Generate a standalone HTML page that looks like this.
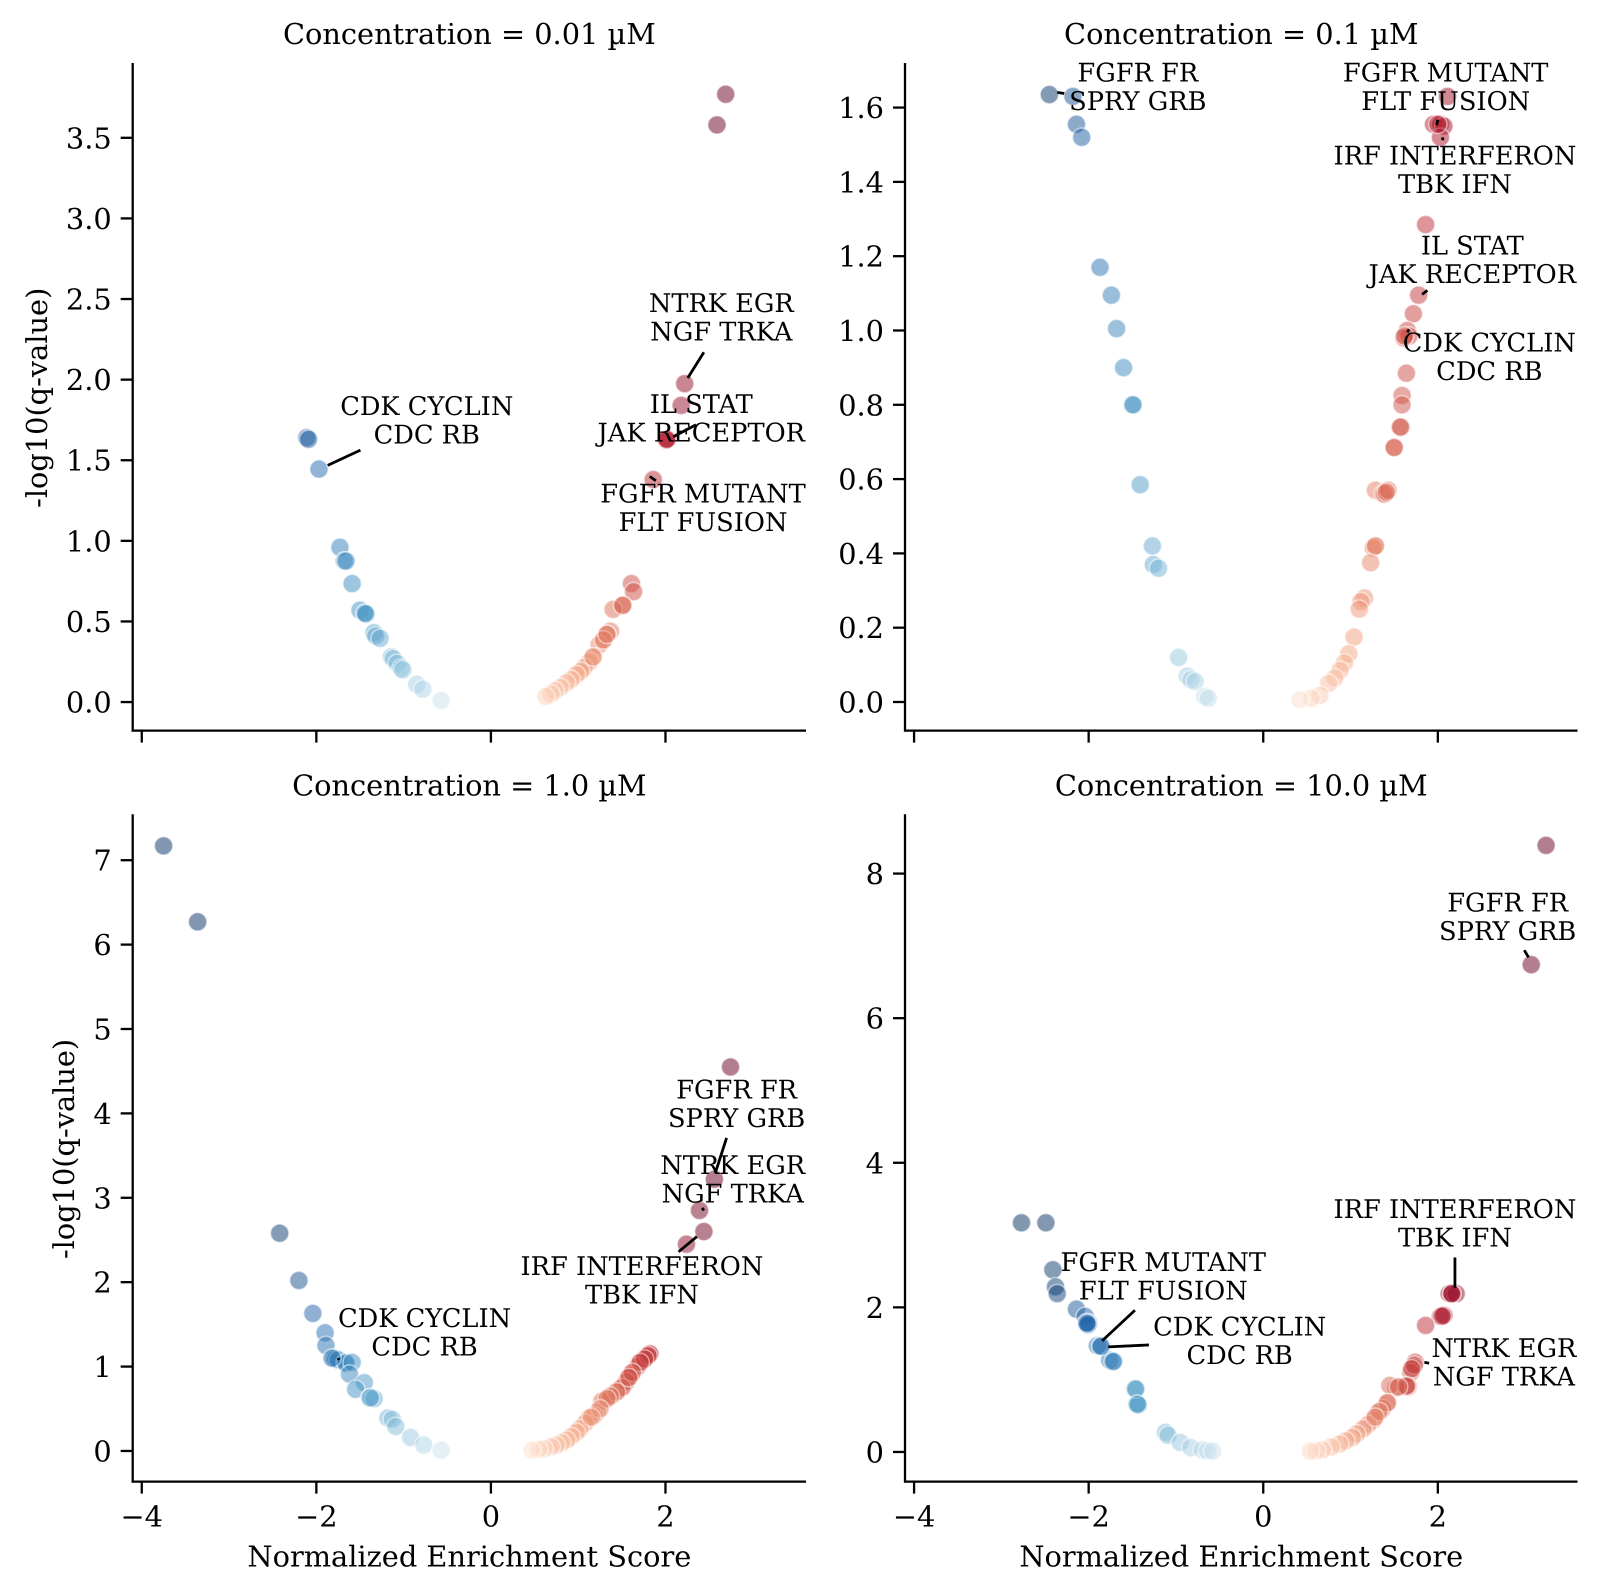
<!DOCTYPE html>
<html lang="en">
<head>
<meta charset="utf-8">
<title>Enrichment volcano plots</title>
<style>
html,body{margin:0;padding:0;background:#fff;}
svg{display:block;}
text{font-family:"DejaVu Serif","Liberation Serif",serif;font-size:28.8px;fill:#000;text-rendering:geometricPrecision;}
text.anno{font-size:25.7px;}
</style>
</head>
<body>
<svg id="fig" width="1600" height="1595" viewBox="0 0 1600 1595" xmlns="http://www.w3.org/2000/svg"></svg>
<script>
// ---------- data ----------
const xTicks = [-4, -2, 0, 2];
const yTicksA = [0, 0.5, 1, 1.5, 2, 2.5, 3, 3.5];
const yTicksB = [0, 0.2, 0.4, 0.6, 0.8, 1, 1.2, 1.4, 1.6];
const yTicksC = [0, 1, 2, 3, 4, 5, 6, 7];
const yTicksD = [0, 2, 4, 6, 8];
const yLabelsA = ["0.0", "0.5", "1.0", "1.5", "2.0", "2.5", "3.0", "3.5"];
const yLabelsB = ["0.0", "0.2", "0.4", "0.6", "0.8", "1.0", "1.2", "1.4", "1.6"];
const yLabelsC = ["0", "1", "2", "3", "4", "5", "6", "7"];
const yLabelsD = ["0", "2", "4", "6", "8"];

const nesA = [-2.11,-2.09,-1.97,-1.73,-1.68,-1.66,-1.59,-1.50,-1.44,-1.43,-1.34,-1.32,-1.27,-1.14,-1.12,-1.075,-1.03,-1.01,-0.85,-0.78,-0.57,
  2.69,2.59,2.22,2.18,2.02,2.01,1.86,1.61,1.635,1.51,1.40,1.37,1.33,1.29,1.24,1.17,1.13,1.07,1.03,0.98,0.92,0.865,0.795,0.735,0.69,0.63,
  1.51,1.17,-1.44,1.29,1.33,2.015];
const qA = [1.64,1.63,1.445,0.96,0.875,0.875,0.735,0.57,0.55,0.545,0.43,0.41,0.395,0.28,0.27,0.24,0.21,0.2,0.11,0.08,0.01,
  3.77,3.58,1.975,1.84,1.63,1.625,1.38,0.735,0.685,0.60,0.575,0.44,0.42,0.385,0.355,0.28,0.25,0.215,0.19,0.17,0.14,0.12,0.09,0.07,0.05,0.035,
  0.60,0.28,0.55,0.385,0.42,1.63];

const nesB = [-2.45,-2.18,-2.14,-2.08,-1.87,-1.74,-1.68,-1.60,-1.50,-1.49,-1.41,-1.27,-1.26,-1.20,-0.97,-0.87,-0.83,-0.78,-0.67,-0.63,
  2.11,1.95,2.03,2.07,2.03,1.86,1.78,1.72,1.65,1.67,1.61,1.64,1.59,1.59,1.58,1.57,1.50,1.285,1.37,1.39,1.43,1.285,1.26,1.23,1.16,1.12,1.10,1.04,0.98,0.93,0.88,0.82,0.75,0.65,0.55,0.42,
  1.50,2.0,1.285,1.62,1.41];
const qB = [1.635,1.63,1.555,1.52,1.17,1.095,1.005,0.90,0.80,0.80,0.585,0.42,0.37,0.36,0.12,0.07,0.06,0.055,0.015,0.01,
  1.63,1.555,1.555,1.55,1.52,1.285,1.095,1.045,1.0,0.985,0.98,0.885,0.825,0.80,0.74,0.74,0.685,0.57,0.56,0.56,0.57,0.42,0.415,0.375,0.28,0.27,0.25,0.175,0.13,0.105,0.085,0.065,0.05,0.018,0.01,0.006,
  0.685,1.555,0.42,0.985,0.565];

const nesC = [-3.75,-3.36,-2.42,-2.2,-2.04,-1.90,-1.89,-1.80,-1.78,-1.75,-1.67,-1.66,-1.59,-1.62,-1.45,-1.55,-1.39,-1.34,-1.18,-1.13,-1.09,-0.92,-0.77,-0.57,
  2.745,2.56,2.39,2.44,2.24,1.82,1.76,1.71,1.62,1.58,1.52,1.47,1.40,1.355,1.30,1.27,1.22,1.18,1.12,1.08,1.02,0.98,0.92,0.87,0.81,0.75,0.69,0.61,0.55,0.47,
  1.80,1.78,1.74,1.68,1.60,1.55,1.50,1.44,1.37,1.33,-1.82,-1.38,1.25,1.15,
  1.82,1.80,1.76,1.71,1.62,1.58];
const qC = [7.17,6.27,2.58,2.02,1.63,1.40,1.25,1.10,1.09,1.08,1.05,1.04,1.05,0.91,0.81,0.73,0.63,0.62,0.39,0.375,0.29,0.16,0.07,0.01,
  4.55,3.22,2.85,2.6,2.45,1.15,1.09,1.05,0.93,0.87,0.77,0.73,0.665,0.64,0.6,0.59,0.46,0.42,0.39,0.33,0.265,0.22,0.17,0.13,0.097,0.07,0.05,0.025,0.02,0.01,
  1.13,1.11,1.07,1.0,0.9,0.82,0.75,0.70,0.65,0.62,1.10,0.63,0.5,0.4,
  1.15,1.13,1.09,1.05,0.93,0.87];

const nesD = [-2.77,-2.49,-2.41,-2.38,-2.36,-2.14,-2.04,-2.02,-2.0,-2.01,-1.90,-1.86,-1.76,-1.71,-1.47,-1.45,-1.43,-1.12,-1.09,-0.95,-0.83,-0.70,-0.64,-0.58,
  3.24,3.07,2.13,2.21,2.16,2.03,2.07,1.86,1.74,1.72,1.69,1.66,1.65,1.52,1.45,1.425,1.37,1.31,1.26,1.20,1.145,1.07,1.02,0.945,0.875,0.78,0.68,0.61,0.54,
  2.16,2.05,1.73,1.70,1.64,1.55,1.42,-2.02,-1.86,-1.72,-1.46,-1.44,1.33,1.28];
const qD = [3.17,3.17,2.52,2.285,2.19,1.975,1.875,1.79,1.78,1.76,1.47,1.47,1.27,1.255,0.875,0.66,0.65,0.27,0.23,0.13,0.06,0.03,0.015,0.01,
  8.39,6.74,2.19,2.19,2.19,1.875,1.89,1.75,1.24,1.17,1.10,0.9,0.92,0.89,0.92,0.68,0.6,0.535,0.44,0.38,0.32,0.25,0.2,0.155,0.11,0.07,0.03,0.015,0.01,
  2.19,1.88,1.2,1.15,0.91,0.9,0.68,1.78,1.46,1.25,0.87,0.66,0.56,0.48];

// annotation labels: [line 1, line 2]
const labelsA = [["NTRK EGR","NGF TRKA"],["CDK CYCLIN","CDC RB"],["IL STAT","JAK RECEPTOR"],["FGFR MUTANT","FLT FUSION"]];
const labelsB = [["FGFR FR","SPRY GRB"],["FGFR MUTANT","FLT FUSION"],["IRF INTERFERON","TBK IFN"],["IL STAT","JAK RECEPTOR"],["CDK CYCLIN","CDC RB"]];
const labelsC = [["FGFR FR","SPRY GRB"],["NTRK EGR","NGF TRKA"],["IRF INTERFERON","TBK IFN"],["CDK CYCLIN","CDC RB"]];
const labelsD = [["FGFR FR","SPRY GRB"],["IRF INTERFERON","TBK IFN"],["FGFR MUTANT","FLT FUSION"],["CDK CYCLIN","CDC RB"],["NTRK EGR","NGF TRKA"]];
// annotation anchors, in data units: label centre, leader start, leader end
const labelXA = [2.64,-0.735,2.41,2.43];
const labelYA = [2.386,1.747,1.76,1.203];
const leaderA = [[2.44,2.17,2.255,2.01],[-1.495,1.563,-1.87,1.468],[2.35,1.72,2.09,1.646],[1.82,1.40,1.89,1.373]];
const labelXB = [-1.437,2.09,2.196,2.395,2.59];
const labelYB = [1.655,1.655,1.432,1.19,0.929];
const leaderB = [[-2.36,1.641,-2.28,1.638],[2.0,1.567,1.986,1.553],[2.056,1.52,2.056,1.512],[1.88,1.108,1.82,1.097],[1.67,1.003,1.65,0.995]];
const labelXC = [2.815,2.77,1.73,-0.76];
const labelYC = [4.11,3.216,2.02,1.403];
const leaderC = [[2.70,3.71,2.57,3.29],[2.42,2.88,2.44,2.85],[2.36,2.54,2.15,2.36],[-1.75,1.10,-1.74,1.08]];
const labelXD = [2.80,2.196,-1.145,-0.27,2.757];
const labelYD = [7.40,3.16,2.426,1.537,1.24];
const leaderD = [[2.99,6.94,3.04,6.84],[2.196,2.69,2.196,2.27],[-1.47,1.96,-1.846,1.537],[-1.31,1.48,-1.776,1.453],[1.90,1.227,1.846,1.24]];

const concentrations = ["0.01","0.1","1.0","10.0"];

// ---------- layout ----------
const SVGNS = "http://www.w3.org/2000/svg";
const fig = document.getElementById("fig");
const panels = [
  {key:"a",box:[132.7,806,63,730.6],xd:[-4.104,3.61],yd:[-0.177,3.964],nes:nesA,q:qA,yt:yTicksA,yl:yLabelsA,labels:labelsA,lx:labelXA,ly:labelYA,lead:leaderA,c:concentrations[0],xlab:false,ylabX:37},
  {key:"b",box:[905,1577.5,63,730.6],xd:[-4.104,3.60],yd:[-0.077,1.72],nes:nesB,q:qB,yt:yTicksB,yl:yLabelsB,labels:labelsB,lx:labelXB,ly:labelYB,lead:leaderB,c:concentrations[1],xlab:false,ylabX:null},
  {key:"c",box:[132.7,806,814.3,1481.6],xd:[-4.104,3.61],yd:[-0.363,7.544],nes:nesC,q:qC,yt:yTicksC,yl:yLabelsC,labels:labelsC,lx:labelXC,ly:labelYC,lead:leaderC,c:concentrations[2],xlab:true,ylabX:64},
  {key:"d",box:[905,1577.5,814.3,1481.6],xd:[-4.104,3.60],yd:[-0.41,8.82],nes:nesD,q:qD,yt:yTicksD,yl:yLabelsD,labels:labelsD,lx:labelXD,ly:labelYD,lead:leaderD,c:concentrations[3],xlab:true,ylabX:null}
];

const cmapStops = [[5,48,97],[33,102,172],[67,147,195],[146,197,222],[209,229,240],[247,247,247],[253,219,199],[244,165,130],[214,96,77],[178,24,43],[103,0,31]];
function colorFor(v){
  let t = Math.max(0, Math.min(1, 0.5 + v / 5));
  const p = t * 10, i = Math.min(9, Math.floor(p)), f = p - i;
  const a = cmapStops[i], b = cmapStops[i + 1];
  return "rgb(" + a.map((c, k) => Math.round(c + (b[k] - c) * f)).join(",") + ")";
}
function make(tag, attrs, parent){
  const el = document.createElementNS(SVGNS, tag);
  for (const k in attrs) el.setAttribute(k, attrs[k]);
  parent.appendChild(el);
  return el;
}
function minusFmt(v){ return v < 0 ? "\u2212" + Math.abs(v) : String(v); }

panels.forEach(function(p){
  const [L, R, T, B] = p.box;
  const xScale = v => L + (v - p.xd[0]) / (p.xd[1] - p.xd[0]) * (R - L);
  const yScale = v => B - (v - p.yd[0]) / (p.yd[1] - p.yd[0]) * (B - T);

  const g = make("g", {}, fig);
  
  

  const title = make("text", {x:(L + R) / 2, y:T - 19, "text-anchor":"middle"}, g);
  
  
  title.textContent = "Concentration = " + p.c + " \u00b5M";

  // points
  const pg = make("g", {}, g);
  
  
  p.nes.forEach(function(v, i){
    const c = make("circle", {cx:xScale(v), cy:yScale(p.q[i]), r:9.2, fill:colorFor(v), "fill-opacity":0.5, stroke:"#fff", "stroke-opacity":0.5, "stroke-width":1.6}, pg);
    
    
  });

  // spines
  const sl = make("line", {x1:L, x2:L, y1:T, y2:B + 1, stroke:"#000", "stroke-width":2.3}, g);
  
  
  const sb = make("line", {x1:L - 1, x2:R, y1:B, y2:B, stroke:"#000", "stroke-width":2.3}, g);
  
  

  // x ticks
  xTicks.forEach(function(v){
    const tk = make("line", {x1:xScale(v), x2:xScale(v), y1:B, y2:B + 12, stroke:"#000", "stroke-width":2.3}, g);
    
    
    if (p.xlab) {
      const tl = make("text", {x:xScale(v), y:B + 45, "text-anchor":"middle"}, g);
      
      
      tl.textContent = minusFmt(v);
    }
  });

  // y ticks
  p.yt.forEach(function(v, i){
    const tk = make("line", {x1:L - 12, x2:L, y1:yScale(v), y2:yScale(v), stroke:"#000", "stroke-width":2.3}, g);
    
    
    const tl = make("text", {x:L - 21, y:yScale(v) + 10.5, "text-anchor":"end"}, g);
    
    
    tl.textContent = p.yl[i];
  });

  // axis titles
  if (p.xlab) {
    const xt = make("text", {x:(L + R) / 2, y:B + 85, "text-anchor":"middle"}, g);
    
    
    xt.textContent = "Normalized Enrichment Score";
  }
  if (p.ylabX !== null) {
    const yc = (T + B) / 2 + 1;
    const yt = make("text", {x:p.ylabX, y:yc, "text-anchor":"middle", "dominant-baseline":"central", transform:"rotate(-90 " + p.ylabX + " " + yc + ")"}, g);
    
    
    yt.textContent = "-log10(q-value)";
  }

  // annotations
  p.labels.forEach(function(lines, i){
    const ag = make("g", {}, g);
    
    
    const ld = p.lead[i];
    const ln = make("line", {x1:xScale(ld[0]), y1:yScale(ld[1]), x2:xScale(ld[2]), y2:yScale(ld[3]), stroke:"#000", "stroke-width":2.8}, ag);
    
    
    const cx = xScale(p.lx[i]), cy = yScale(p.ly[i]);
    lines.forEach(function(s, k){
      const t = make("text", {x:cx, y:cy + (k === 0 ? -5.5 : 23), "text-anchor":"middle", "class":"anno"}, ag);
      
      
      t.textContent = s;
    });
  });
});
</script>
</body>
</html>
